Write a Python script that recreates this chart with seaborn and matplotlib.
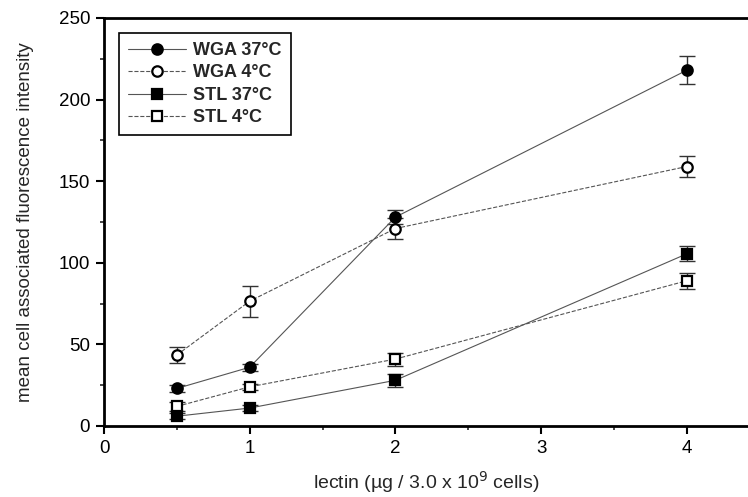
import pandas as pd
import matplotlib.pyplot as plt
import seaborn as sns
from matplotlib.ticker import MultipleLocator
from matplotlib.lines import Line2D

# lectin dose (x) and mean fluorescence per series
dose = [0.5, 1, 2, 4]
wga_37 = [23, 36, 128, 218]
wga_37_err = [2, 2, 4.5, 8.5]
wga_4 = [43.5, 76.5, 121, 159]
wga_4_err = [5, 9.5, 6.5, 6.5]
stl_37 = [6, 11, 28, 105.5]
stl_37_err = [2, 2, 4, 4.5]
stl_4 = [12, 24, 41, 89]
stl_4_err = [3, 2, 4, 5]

labels = ['WGA 37°C', 'WGA 4°C', 'STL 37°C', 'STL 4°C']

sns.set_style('ticks')
plt.rcParams['font.family'] = ['Liberation Sans', 'DejaVu Sans']

fig = plt.figure(figsize=(7.48, 4.97), dpi=100)
ax = fig.add_axes([104 / 748, 71 / 497, 644 / 748, 408 / 497])

series = [
    (wga_37, wga_37_err, 'o', 'black', '-'),
    (wga_4, wga_4_err, 'o', 'white', '--'),
    (stl_37, stl_37_err, 's', 'black', '-'),
    (stl_4, stl_4_err, 's', 'white', '--'),
]

handles = []
for (vals, errs, mk, face, ls), lab in zip(series, labels):
    df = pd.DataFrame({'dose': dose, 'value': vals})
    ax.errorbar(dose, vals, yerr=errs, fmt='none', ecolor='#333333',
                elinewidth=1.0, capsize=6, capthick=1.0, zorder=2)
    sns.lineplot(data=df, x='dose', y='value', ax=ax, color='#555555',
                 linewidth=0.8, linestyle=ls, marker=mk, markersize=7.5,
                 markerfacecolor=face, markeredgecolor='black',
                 markeredgewidth=1.6, zorder=3, legend=False)
    handles.append(Line2D([0], [0], color='#555555', linewidth=0.8,
                          linestyle=ls, marker=mk, markersize=7.5,
                          markerfacecolor=face, markeredgecolor='black',
                          markeredgewidth=1.6, label=lab))

ax.set_xlim(0, 4.42)
ax.set_ylim(0, 250)
ax.xaxis.set_major_locator(MultipleLocator(1))
ax.xaxis.set_minor_locator(MultipleLocator(0.5))
ax.yaxis.set_major_locator(MultipleLocator(50))
ax.yaxis.set_minor_locator(MultipleLocator(25))
ax.tick_params(which='major', direction='out', length=6, width=1.5,
               labelsize=13.5, colors='black', pad=4)
ax.tick_params(which='minor', direction='out', length=3, width=1.2)

for side in ['left', 'bottom', 'top']:
    ax.spines[side].set_linewidth(2)
    ax.spines[side].set_color('black')
ax.spines['right'].set_visible(False)

ax.set_xlabel('lectin (µg / 3.0 x 10$^{9}$ cells)', fontsize=14, labelpad=9)
ax.set_ylabel('mean cell associated fluorescence intensity', fontsize=13.5,
              labelpad=18)

leg = ax.legend(handles=handles, loc='upper left',
                bbox_to_anchor=(15 / 644, 1 - 15 / 408), borderaxespad=0,
                fancybox=False, edgecolor='black', framealpha=1,
                handlelength=3.2, labelspacing=0.3,
                borderpad=0.5, handletextpad=0.4,
                prop={'weight': 'bold', 'size': 13})
leg.get_frame().set_linewidth(1.2)

fig.savefig('out.png', dpi=100)
